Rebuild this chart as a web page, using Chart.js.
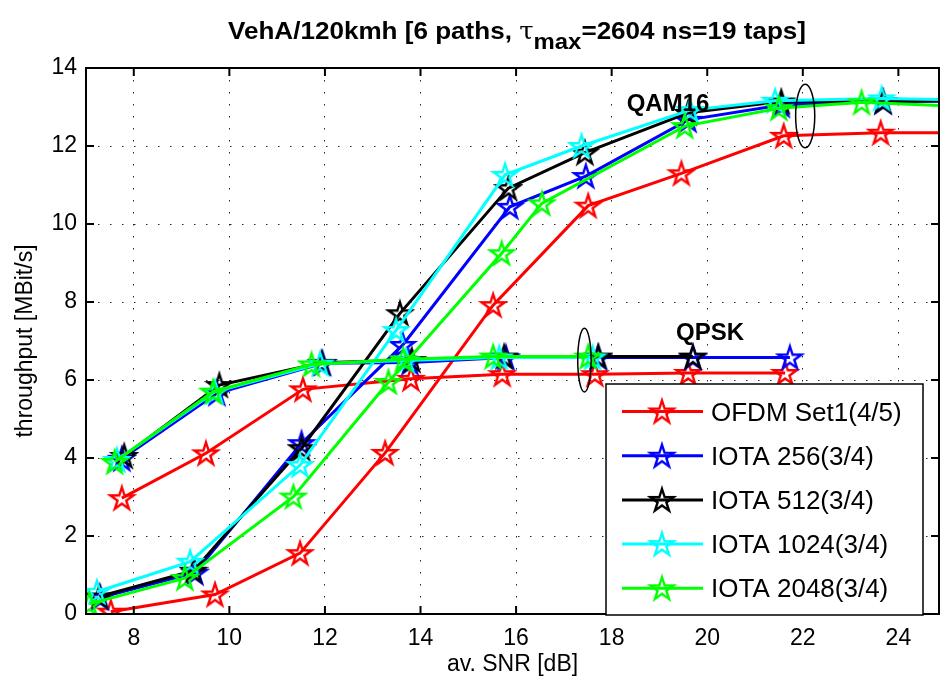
<!DOCTYPE html>
<html>
<head>
<meta charset="utf-8">
<script src="https://cdn.jsdelivr.net/npm/chart.js@4/dist/chart.umd.min.js"></script>
<style>
  html, body { margin: 0; padding: 0; background: #fff; overflow: hidden; }
  #wrap { width: 940px; height: 688px; }
  canvas { display: block; }
</style>
</head>
<body>
<div id="wrap"><canvas id="myChart" width="940" height="688"></canvas></div>
<script>
// ---- values ----
var xTicks = [8, 10, 12, 14, 16, 18, 20, 22, 24];
var yTicks = [0, 2, 4, 6, 8, 10, 12, 14];

var seriesNames = ['OFDM Set1(4/5)', 'IOTA 256(3/4)', 'IOTA 512(3/4)', 'IOTA 1024(3/4)', 'IOTA 2048(3/4)'];
var seriesColors = ['#ff0000', '#0000ff', '#000000', '#00ffff', '#00ff00'];

// QAM16 branch (last point lies just past the right edge)
var ofdmQamSnr = [7.52, 9.70, 11.48, 13.26, 15.52, 17.51, 19.46, 21.60, 23.63, 25.6];
var ofdmQamThr = [0.06, 0.50, 1.56, 4.13, 7.92, 10.47, 11.30, 12.26, 12.34, 12.34];
var iota256QamSnr = [7.30, 9.28, 11.51, 13.63, 15.87, 17.46, 19.60, 21.55, 23.68, 25.6];
var iota256QamThr = [0.42, 1.06, 4.38, 6.90, 10.44, 11.23, 12.67, 13.05, 13.14, 13.16];
var iota512QamSnr = [7.28, 9.25, 11.51, 13.57, 15.84, 17.44, 19.60, 21.55, 23.68, 25.6];
var iota512QamThr = [0.45, 1.11, 4.25, 7.71, 10.92, 11.83, 12.85, 13.14, 13.14, 13.16];
var iota1024QamSnr = [7.23, 9.18, 11.48, 13.49, 15.77, 17.37, 19.64, 21.42, 23.65, 25.6];
var iota1024QamThr = [0.57, 1.34, 3.82, 7.28, 11.26, 12.00, 12.92, 13.16, 13.22, 13.18];
var iota2048QamSnr = [7.07, 9.07, 11.34, 13.33, 15.70, 16.54, 19.53, 21.50, 23.23, 25.6];
var iota2048QamThr = [0.26, 0.92, 3.01, 5.95, 9.25, 10.53, 12.51, 12.97, 13.12, 13.00];

// QPSK branch
var ofdmQpskSnr = [7.75, 9.51, 11.54, 13.80, 15.71, 17.65, 19.60, 21.63];
var ofdmQpskThr = [2.97, 4.12, 5.76, 6.03, 6.15, 6.15, 6.18, 6.18];
var iota256QpskSnr = [7.75, 9.74, 11.95, 13.78, 15.79, 17.72, 19.70, 21.73];
var iota256QpskThr = [3.98, 5.66, 6.43, 6.45, 6.58, 6.58, 6.58, 6.58];
var iota512QpskSnr = [7.80, 9.79, 11.93, 13.82, 15.75, 17.72, 19.70];
var iota512QpskThr = [4.05, 5.87, 6.44, 6.51, 6.60, 6.60, 6.60];
var iota1024QpskSnr = [7.65, 9.70, 11.90, 13.70, 15.65, 17.60];
var iota1024QpskThr = [3.95, 5.70, 6.42, 6.50, 6.58, 6.58];
var iota2048QpskSnr = [7.60, 9.66, 11.72, 13.64, 15.52, 17.51];
var iota2048QpskThr = [3.90, 5.70, 6.40, 6.53, 6.60, 6.60];

// annotation text and ellipses, in data units
var notes = [
  { text: 'QAM16', x: 19.18, y: 13.08 },
  { text: 'QPSK', x: 20.06, y: 7.2 }
];
var rings = [
  { x: 22.05, y: 12.77, rx: 0.2, ry: 0.815 },
  { x: 17.43, y: 6.51, rx: 0.14, ry: 0.815 }
];

var qamSets = [
  [ofdmQamSnr, ofdmQamThr], [iota256QamSnr, iota256QamThr], [iota512QamSnr, iota512QamThr],
  [iota1024QamSnr, iota1024QamThr], [iota2048QamSnr, iota2048QamThr]
];
var qpskSets = [
  [ofdmQpskSnr, ofdmQpskThr], [iota256QpskSnr, iota256QpskThr], [iota512QpskSnr, iota512QpskThr],
  [iota1024QpskSnr, iota1024QpskThr], [iota2048QpskSnr, iota2048QpskThr]
];

// hollow pentagram marker, like matlab's 'p'
function starImage(color) {
  var R = 12, r = R * 0.382, size = 30;
  var c = document.createElement('canvas');
  c.width = size; c.height = size;
  var g = c.getContext('2d');
  g.translate(size / 2, size / 2 + 1);
  g.beginPath();
  for (var k = 0; k < 10; k++) {
    var rad = (k % 2 === 0) ? R : r;
    var ang = -Math.PI / 2 + k * Math.PI / 5;
    var px = rad * Math.cos(ang), py = rad * Math.sin(ang);
    if (k === 0) g.moveTo(px, py); else g.lineTo(px, py);
  }
  g.closePath();
  g.strokeStyle = color;
  g.lineWidth = 2.4;
  g.lineJoin = 'miter';
  g.stroke();
  return c;
}
var stars = seriesColors.map(starImage);

function pts(xs, ys) {
  return xs.map(function (x, i) { return { x: x, y: ys[i] }; });
}

var datasets = [];
for (var i = 0; i < seriesNames.length; i++) {
  [qamSets[i], qpskSets[i]].forEach(function (s, j) {
    datasets.push({
      label: seriesNames[i],
      inLegend: j === 0,
      data: pts(s[0], s[1]),
      borderColor: seriesColors[i],
      backgroundColor: seriesColors[i],
      borderWidth: 3,
      pointStyle: stars[i],
      pointRadius: 12,
      fill: false,
      tension: 0,
      order: 5 - i
    });
  });
}

// box, inward ticks, ellipses, labels, legend
var decor = {
  id: 'decor',
  afterDatasetsDraw: function (chart) {
    var ctx = chart.ctx, a = chart.chartArea;
    var xs = chart.scales.x, ys = chart.scales.y;
    ctx.save();
    ctx.strokeStyle = '#000';
    ctx.lineWidth = 2;
    ctx.strokeRect(a.left, a.top, a.right - a.left, a.bottom - a.top);
    ctx.beginPath();
    xTicks.forEach(function (v) {
      var px = xs.getPixelForValue(v);
      ctx.moveTo(px, a.bottom); ctx.lineTo(px, a.bottom - 8);
      ctx.moveTo(px, a.top); ctx.lineTo(px, a.top + 8);
    });
    yTicks.forEach(function (v) {
      var py = ys.getPixelForValue(v);
      ctx.moveTo(a.left, py); ctx.lineTo(a.left + 8, py);
      ctx.moveTo(a.right, py); ctx.lineTo(a.right - 8, py);
    });
    ctx.stroke();

    // ellipses
    ctx.lineWidth = 1.5;
    rings.forEach(function (e) {
      var cx = xs.getPixelForValue(e.x), cy = ys.getPixelForValue(e.y);
      var rx = Math.abs(xs.getPixelForValue(e.x + e.rx) - cx);
      var ry = Math.abs(ys.getPixelForValue(e.y + e.ry) - cy);
      ctx.beginPath();
      ctx.ellipse(cx, cy, rx, ry, 0, 0, Math.PI * 2);
      ctx.stroke();
    });

    // QAM16 / QPSK labels
    ctx.fillStyle = '#000';
    ctx.font = 'bold 24px "Liberation Sans", Arial, sans-serif';
    ctx.textAlign = 'center';
    ctx.textBaseline = 'middle';
    notes.forEach(function (n) {
      ctx.fillText(n.text, xs.getPixelForValue(n.x), ys.getPixelForValue(n.y));
    });

    // legend
    var lx = 606, ly = 384, lw = 317, lh = 231;
    ctx.fillStyle = '#fff';
    ctx.fillRect(lx, ly, lw, lh);
    ctx.strokeStyle = '#000';
    ctx.lineWidth = 1.5;
    ctx.strokeRect(lx, ly, lw, lh);
    ctx.textAlign = 'left';
    ctx.textBaseline = 'alphabetic';
    ctx.font = '26px "Liberation Sans", Arial, sans-serif';
    var shown = chart.data.datasets.filter(function (d) { return d.inLegend; });
    shown.forEach(function (d, k) {
      var ry = 411.5 + k * 44.2;
      ctx.strokeStyle = d.borderColor;
      ctx.lineWidth = 3;
      ctx.beginPath();
      ctx.moveTo(622, ry); ctx.lineTo(703, ry);
      ctx.stroke();
      ctx.drawImage(d.pointStyle, 662 - d.pointStyle.width / 2, ry - d.pointStyle.height / 2);
      ctx.fillStyle = '#000';
      ctx.fillText(d.label, 711, ry + 9);
    });
    ctx.restore();
  },
  afterDraw: function (chart) {
    // title with tau subscript
    var ctx = chart.ctx;
    var parts = [
      { t: 'VehA/120kmh [6 paths, ', f: 'bold 24px "Liberation Sans", Arial, sans-serif', dy: 0 },
      { t: '\u03C4', f: '24px "DejaVu Serif", serif', dy: 0 },
      { t: 'max', f: 'bold 22px "Liberation Sans", Arial, sans-serif', dy: 10 },
      { t: '=2604 ns=19 taps]', f: 'bold 24px "Liberation Sans", Arial, sans-serif', dy: 0 }
    ];
    ctx.save();
    var total = 0;
    parts.forEach(function (p) { ctx.font = p.f; p.w = ctx.measureText(p.t).width; total += p.w; });
    var sx = 578 / total;
    ctx.translate(228, 38.5);
    ctx.scale(sx, 1);
    ctx.fillStyle = '#000';
    ctx.textBaseline = 'alphabetic';
    var cur = 0;
    parts.forEach(function (p) {
      ctx.font = p.f;
      ctx.fillText(p.t, cur, p.dy);
      cur += p.w;
    });
    ctx.restore();
  }
};

var tickFont = { family: '"Liberation Sans", Arial, sans-serif', size: 23 };

var ctx = document.getElementById('myChart').getContext('2d');
var myChart = new Chart(ctx, {
  type: 'line',
  data: { datasets: datasets },
  plugins: [decor],
  options: {
    responsive: false,
    animation: false,
    events: [],
    layout: { autoPadding: false, padding: { top: 68, right: 1, left: 0, bottom: 0 } },
    plugins: {
      legend: { display: false },
      tooltip: { enabled: false },
      title: { display: false }
    },
    scales: {
      x: {
        type: 'linear',
        min: 7,
        max: 24.85,
        afterBuildTicks: function (scale) {
          scale.ticks = xTicks.map(function (v) { return { value: v }; });
        },
        afterFit: function (scale) {
          scale.height = 74;
          scale.paddingLeft = 0;
          scale.paddingRight = 0;
        },
        ticks: { color: '#000', font: tickFont, padding: 11, maxRotation: 0 },
        grid: { color: 'rgba(0,0,0,0.85)', lineWidth: 1, drawTicks: false },
        border: { display: false, dash: [1.5, 10.5] },
        title: {
          display: true,
          text: 'av. SNR [dB]',
          color: '#000',
          font: tickFont,
          padding: { top: 0, bottom: 10 }
        }
      },
      y: {
        type: 'linear',
        min: 0,
        max: 14,
        afterBuildTicks: function (scale) {
          scale.ticks = yTicks.map(function (v) { return { value: v }; });
        },
        afterFit: function (scale) {
          scale.width = 86;
          scale.paddingTop = 0;
          scale.paddingBottom = 0;
        },
        ticks: { color: '#000', font: tickFont, padding: 9 },
        grid: { color: 'rgba(0,0,0,0.85)', lineWidth: 1, drawTicks: false },
        border: { display: false, dash: [1.5, 10.5] },
        title: {
          display: true,
          text: 'throughput [MBit/s]',
          color: '#000',
          font: tickFont,
          padding: { top: 12, bottom: 0 }
        }
      }
    }
  }
});
</script>
</body>
</html>
